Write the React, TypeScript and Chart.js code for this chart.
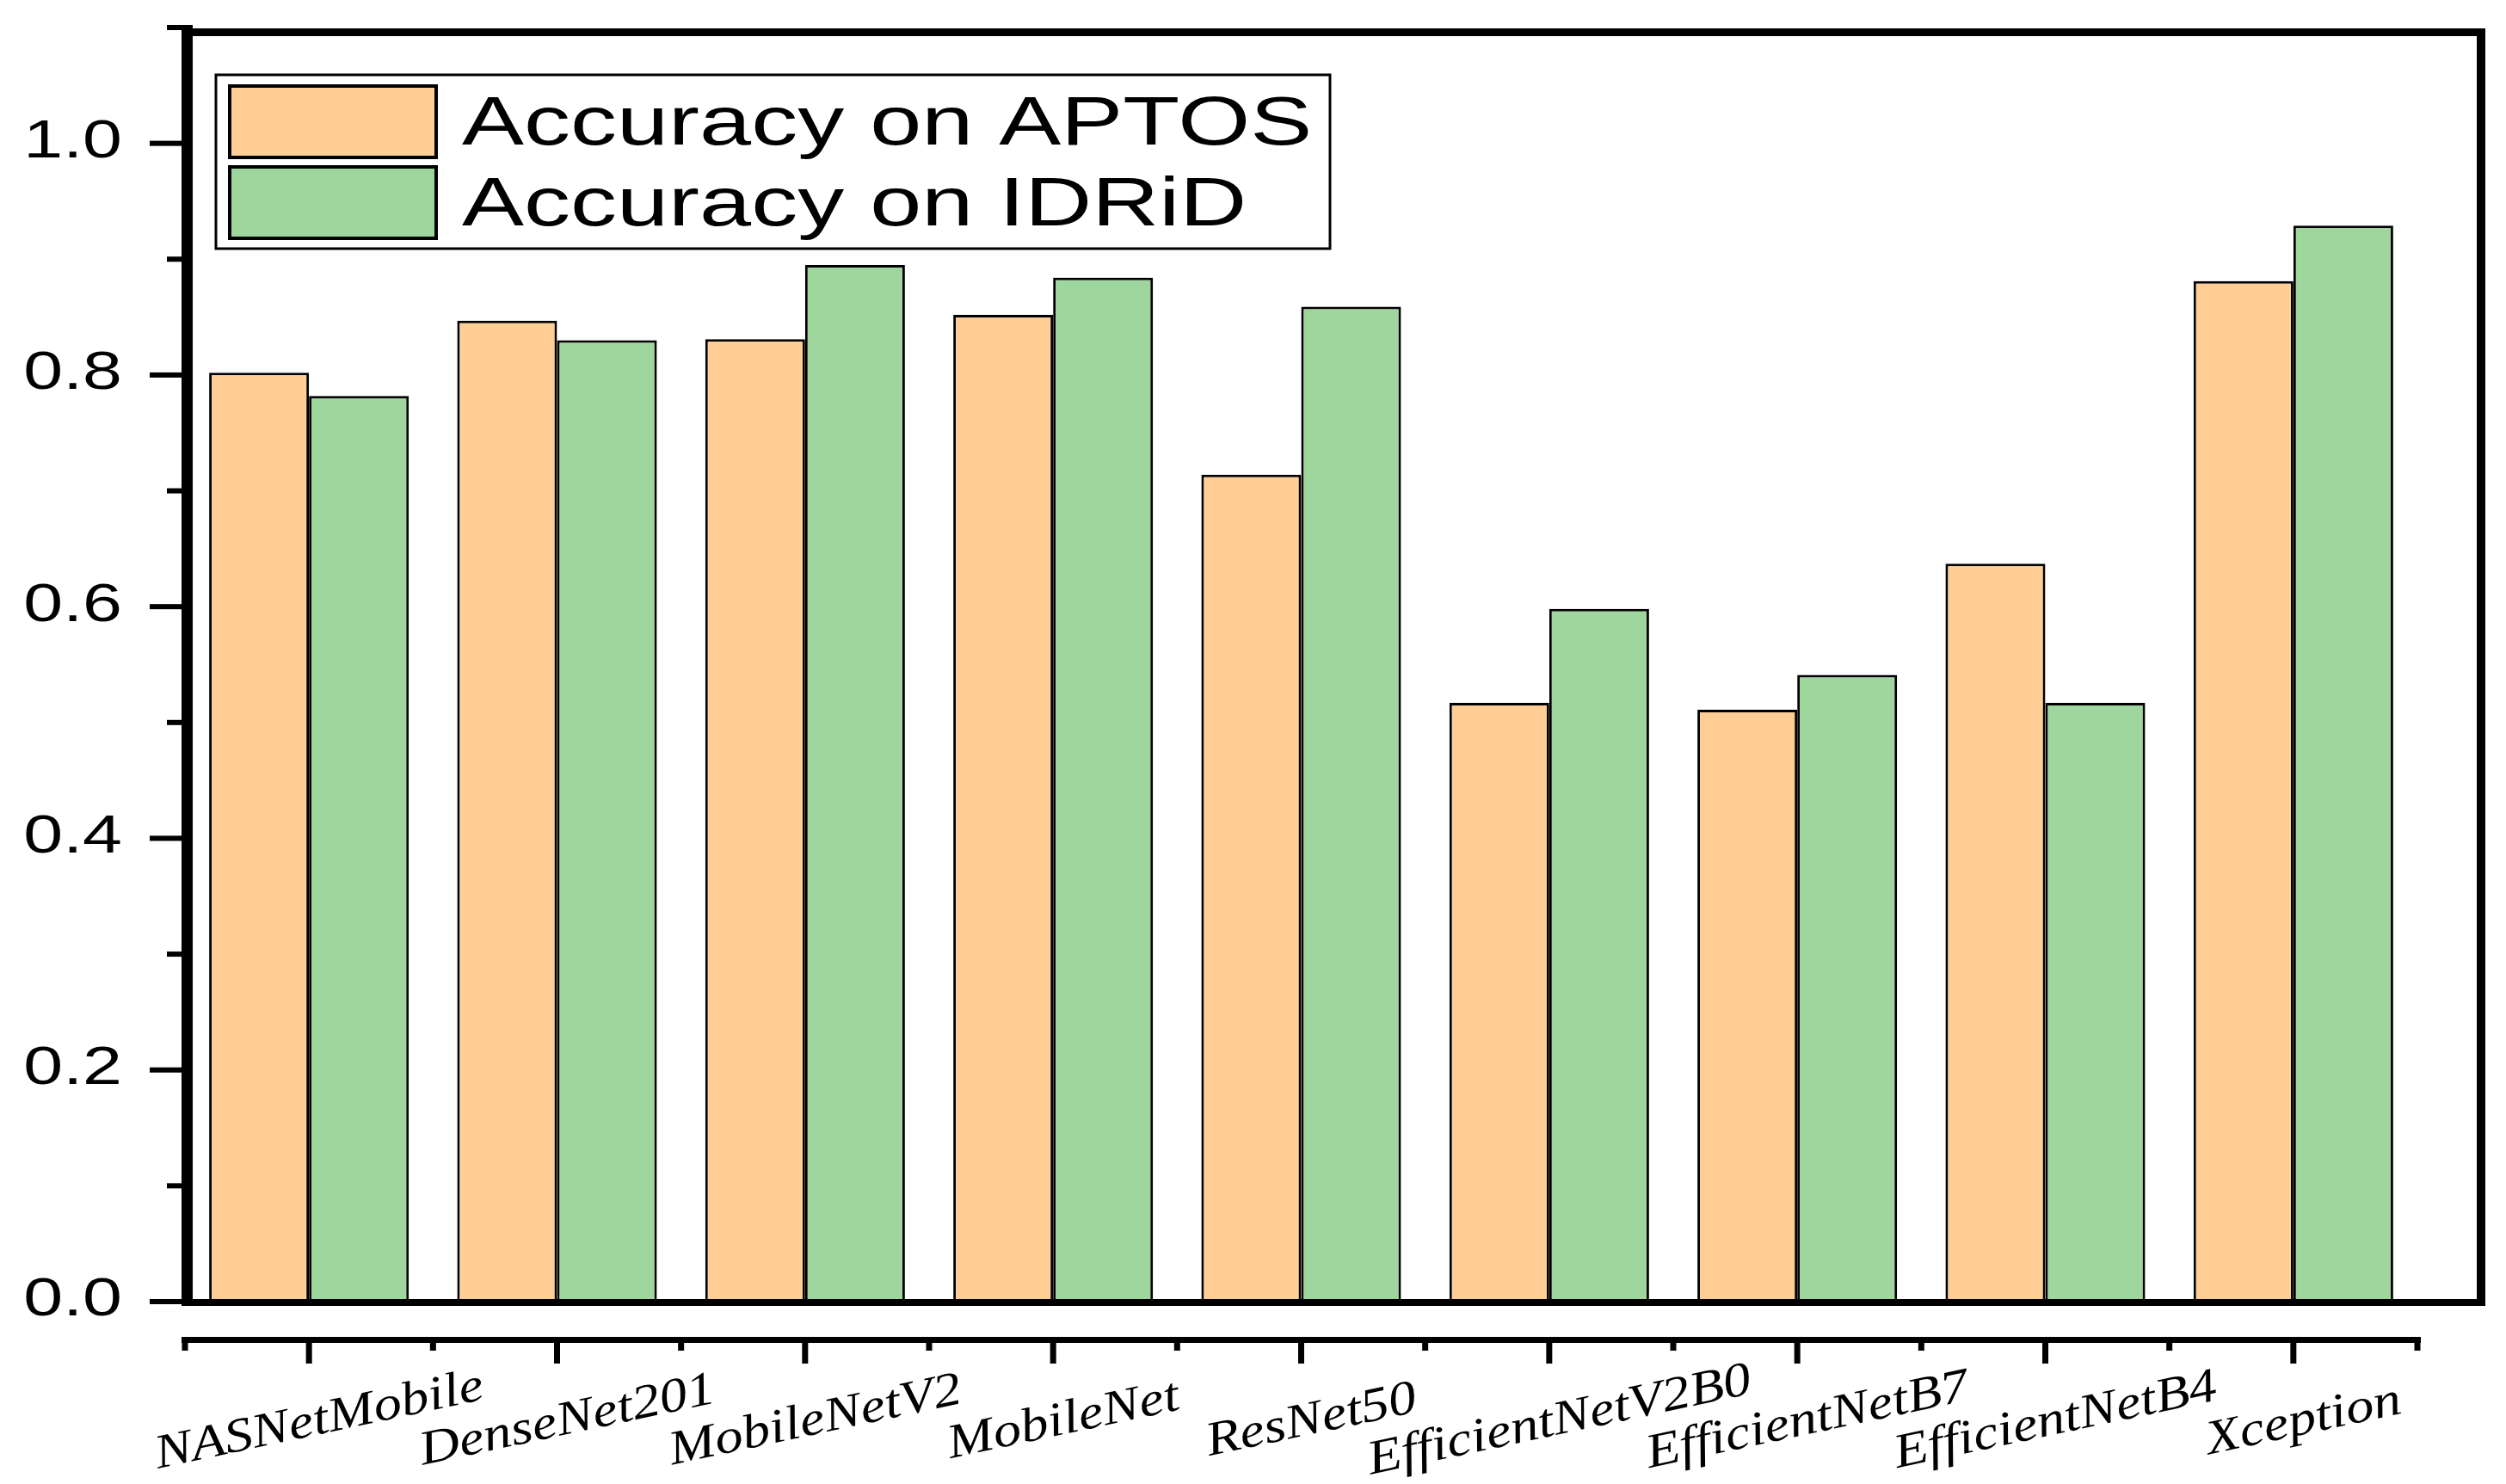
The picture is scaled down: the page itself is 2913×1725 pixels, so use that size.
import React, { useEffect, useRef } from 'react';
import { Chart, registerables } from 'chart.js';

Chart.register(...registerables);

const categories = [
  'NASNetMobile',
  'DenseNet201',
  'MobileNetV2',
  'MobileNet',
  'ResNet50',
  'EfficientNetV2B0',
  'EfficientNetB7',
  'EfficientNetB4',
  'Xception',
];
const aptosAccuracy = [0.802, 0.847, 0.831, 0.852, 0.714, 0.517, 0.511, 0.637, 0.881];
const idridAccuracy = [0.782, 0.830, 0.895, 0.884, 0.859, 0.598, 0.541, 0.517, 0.929];
const seriesLabels = ['Accuracy on APTOS', 'Accuracy on IDRiD'];
const yTickValues = [0, 0.2, 0.4, 0.6, 0.8, 1.0];
const yTickLabels = ['0.0', '0.2', '0.4', '0.6', '0.8', '1.0'];
const yMinorTickValues = [0.1, 0.3, 0.5, 0.7, 0.9, 1.1];
const yMax = 1.1;

const W = 2913;
const H = 1725;
const ORANGE = '#FECE95';
const GREEN = '#9ED69D';
const seriesColors = [ORANGE, GREEN];

function stretchedText(
  ctx: CanvasRenderingContext2D,
  text: string,
  x: number,
  y: number,
  sx: number,
  align: CanvasTextAlign,
  rot = 0
) {
  ctx.save();
  ctx.translate(x, y);
  if (rot) ctx.rotate(rot);
  ctx.scale(sx, 1);
  ctx.textAlign = align;
  ctx.fillText(text, 0, 0);
  ctx.restore();
}

const framePlugin = {
  id: 'originFrame',
  afterDatasetsDraw(chart: any) {
    const ctx: CanvasRenderingContext2D = chart.ctx;
    const xs = chart.scales.x;
    const ys = chart.scales.y;
    const y0 = ys.getPixelForValue(0);
    const yTop = ys.getPixelForValue(yMax);
    const xLeft = xs.getPixelForValue(-0.5);
    const xRight = xs.getPixelForValue(categories.length - 0.5);
    const frameRight = xRight + 79;

    ctx.save();
    ctx.fillStyle = '#000';

    // frame
    ctx.fillRect(xLeft - 4, yTop + 1, frameRight - (xLeft - 4), 9); // top
    ctx.fillRect(frameRight - 10, yTop + 1, 10, y0 + 5 - (yTop + 1)); // right
    ctx.fillRect(xLeft - 4, y0 - 3, frameRight - (xLeft - 4), 8); // bottom
    ctx.fillRect(xLeft - 4, yTop - 3, 13, y0 + 5 - (yTop - 3)); // left axis

    // y ticks
    yTickValues.forEach((v) => {
      const py = ys.getPixelForValue(v);
      ctx.fillRect(xLeft - 41, py - 3, 37, 6);
    });
    yMinorTickValues.forEach((v) => {
      const py = ys.getPixelForValue(v);
      ctx.fillRect(xLeft - 21, py - 3, 17, 6);
    });

    // y labels
    ctx.font = '63px "Liberation Sans", Arial, sans-serif';
    ctx.textBaseline = 'middle';
    yTickValues.forEach((v, i) => {
      const py = ys.getPixelForValue(v);
      stretchedText(ctx, yTickLabels[i], xLeft - 73, py - 1, 1.31, 'right');
    });

    // secondary x axis below the frame
    const axY = y0 + 41;
    ctx.fillRect(xLeft - 4, axY, xRight + 4 - (xLeft - 4), 7);
    for (let i = 0; i <= categories.length; i++) {
      const px = xs.getPixelForValue(i - 0.5);
      ctx.fillRect(px - 3.5, axY, 7, 16);
    }
    categories.forEach((_, i) => {
      const px = xs.getPixelForValue(i);
      ctx.fillRect(px - 3.5, axY, 7, 31);
    });

    // x labels
    ctx.font = 'italic 56px "Liberation Serif", "Times New Roman", serif';
    ctx.textBaseline = 'middle';
    categories.forEach((c, i) => {
      const px = xs.getPixelForValue(i);
      stretchedText(ctx, c, px + 12, y0 + 139, 1.16, 'center', (-12 * Math.PI) / 180);
    });

    // legend
    const lx = xLeft + 36;
    const ly = yTop + 55;
    ctx.strokeStyle = '#000';
    ctx.lineWidth = 3;
    ctx.strokeRect(lx, ly, 1295, 202);
    const swX = lx + 16;
    const swTops = [ly + 13, ly + 107];
    ctx.font = '80px "Liberation Sans", Arial, sans-serif';
    ctx.textBaseline = 'alphabetic';
    seriesLabels.forEach((label, i) => {
      ctx.fillStyle = seriesColors[i];
      ctx.fillRect(swX, swTops[i], 240, 83);
      ctx.lineWidth = 4;
      ctx.strokeRect(swX, swTops[i], 240, 83);
      ctx.fillStyle = '#000';
      stretchedText(ctx, label, lx + 286, swTops[i] + 68, 1.35, 'left');
    });

    ctx.restore();
  },
};

export default function App() {
  const canvasRef = useRef<HTMLCanvasElement | null>(null);

  useEffect(() => {
    if (!canvasRef.current) return;
    const chart = new Chart(canvasRef.current, {
      type: 'bar',
      data: {
        labels: categories,
        datasets: [
          {
            label: seriesLabels[0],
            data: aptosAccuracy,
            backgroundColor: ORANGE,
            borderColor: '#000',
            borderWidth: 3,
            categoryPercentage: 0.805,
            barPercentage: 1.0,
          },
          {
            label: seriesLabels[1],
            data: idridAccuracy,
            backgroundColor: GREEN,
            borderColor: '#000',
            borderWidth: 3,
            categoryPercentage: 0.805,
            barPercentage: 1.0,
          },
        ],
      },
      options: {
        animation: false,
        responsive: false,
        devicePixelRatio: 1,
        layout: { padding: { left: 215, right: 103, top: 32, bottom: 212 } },
        plugins: {
          legend: { display: false },
          tooltip: { enabled: false },
        },
        scales: {
          x: { type: 'category', display: false, grid: { display: false } },
          y: { display: false, min: 0, max: yMax, grid: { display: false } },
        },
      },
      plugins: [framePlugin],
    });
    return () => chart.destroy();
  }, []);

  return (
    <div style={{ position: 'absolute', left: 0, top: 0, width: W, height: H, background: '#fff' }}>
      <canvas ref={canvasRef} width={W} height={H} style={{ width: W, height: H, display: 'block' }} />
    </div>
  );
}
